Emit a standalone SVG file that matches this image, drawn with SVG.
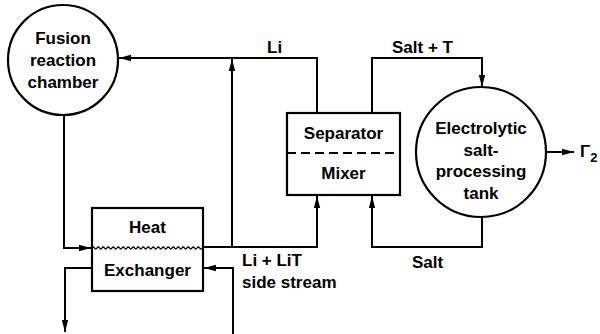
<svg xmlns="http://www.w3.org/2000/svg" width="600" height="334" viewBox="0 0 600 334">
<defs>
<style>
.ln{fill:none;stroke:#000;stroke-width:2}
.bx{fill:#fff;stroke:#000;stroke-width:2.2}
.t{font-family:"Liberation Sans",Arial,sans-serif;font-weight:bold;font-size:17px;fill:#000}
.c{text-anchor:middle}
</style>
<marker id="ah" viewBox="0 0 12 8" refX="12" refY="4" markerWidth="12" markerHeight="8" markerUnits="userSpaceOnUse" orient="auto">
<path d="M0,0.8 L12,4 L0,7.2 z" fill="#000"/>
</marker>
</defs>
<rect width="600" height="334" fill="#fff"/>
<g id="connectors">
<path class="ln" d="M317,113 V58 H119" marker-end="url(#ah)"/>
<path class="ln" d="M232,247 V59" marker-end="url(#ah)"/>
<path class="ln" d="M372,113 V58 H482 V87" marker-end="url(#ah)"/>
<path class="ln" d="M482,217 V247 H372 V196" marker-end="url(#ah)"/>
<path class="ln" d="M203,247 H317 V196" marker-end="url(#ah)"/>
<path class="ln" d="M64,115 V248 H91" marker-end="url(#ah)"/>
<path class="ln" d="M92,268 H65 V332" marker-end="url(#ah)"/>
<path class="ln" d="M233,334 V268 H204" marker-end="url(#ah)"/>
<path class="ln" d="M547,152 H574" marker-end="url(#ah)"/>
</g>
<g id="fusion">
<circle cx="63" cy="60" r="55" class="bx"/>
<text class="t c" x="63" y="44">Fusion</text>
<text class="t c" x="63" y="66">reaction</text>
<text class="t c" x="63" y="88">chamber</text>
</g>
<g id="separator-mixer">
<rect x="287" y="113" width="113" height="82" class="bx"/>
<line x1="287" y1="153" x2="400" y2="153" stroke="#000" stroke-width="2" stroke-dasharray="9,5"/>
<text class="t c" x="343.5" y="139">Separator</text>
<text class="t c" x="343.5" y="179">Mixer</text>
</g>
<g id="electrolytic">
<circle cx="481" cy="152" r="65" class="bx"/>
<text class="t c" x="481" y="134">Electrolytic</text>
<text class="t c" x="481" y="156">salt-</text>
<text class="t c" x="481" y="177">processing</text>
<text class="t c" x="481" y="199">tank</text>
</g>
<g id="heat-exchanger">
<rect x="92" y="208" width="111" height="83" class="bx"/>
<path d="M92,248 q1.25,-2 2.5,0 t2.5,0 t2.5,0 t2.5,0 t2.5,0 t2.5,0 t2.5,0 t2.5,0 t2.5,0 t2.5,0 t2.5,0 t2.5,0 t2.5,0 t2.5,0 t2.5,0 t2.5,0 t2.5,0 t2.5,0 t2.5,0 t2.5,0 t2.5,0 t2.5,0 t2.5,0 t2.5,0 t2.5,0 t2.5,0 t2.5,0 t2.5,0 t2.5,0 t2.5,0 t2.5,0 t2.5,0 t2.5,0 t2.5,0 t2.5,0 t2.5,0 t2.5,0 t2.5,0 t2.5,0 t2.5,0 t2.5,0 t2.5,0 t2.5,0 t2.5,0" fill="none" stroke="#000" stroke-width="1.3"/>
<text class="t c" x="147.5" y="233">Heat</text>
<text class="t c" x="147.5" y="276">Exchanger</text>
</g>
<g id="labels">
<text class="t" x="267" y="53">Li</text>
<text class="t" x="392" y="53">Salt + T</text>
<text class="t" x="412" y="268">Salt</text>
<text class="t" x="242" y="266">Li + LiT</text>
<text class="t" x="242" y="288">side stream</text>
<text class="t" x="580" y="157">Γ<tspan font-size="13" dy="5">2</tspan></text>
</g>
</svg>
